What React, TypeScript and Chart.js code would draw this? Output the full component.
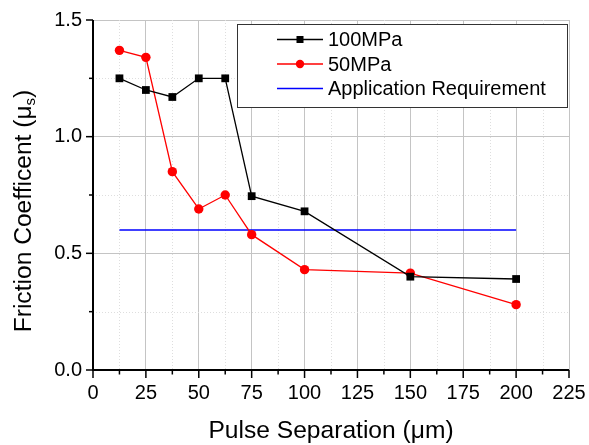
import React, { useEffect, useRef } from 'react';
import { Chart, registerables } from 'chart.js';

Chart.register(...registerables);

// ---- data ----
const pulseSeparation = [12.5, 25, 37.5, 50, 62.5, 75, 100, 150, 200];
const friction100MPa = [1.25, 1.2, 1.17, 1.25, 1.25, 0.745, 0.68, 0.4, 0.39];
const friction50MPa = [1.37, 1.34, 0.85, 0.69, 0.75, 0.58, 0.43, 0.415, 0.28];
const requirementX = [12.5, 200];
const requirementY = [0.6, 0.6];
const seriesLabels = ['100MPa', '50MPa', 'Application Requirement'];
const xTickValues = [0, 25, 50, 75, 100, 125, 150, 175, 200, 225];
const yTickValues = [0, 0.5, 1.0, 1.5];
const xMinorValues = [12.5, 37.5, 62.5, 87.5, 112.5, 137.5, 162.5, 187.5, 212.5];
const yMinorValues = [0.25, 0.75, 1.25];
const xTitle = 'Pulse Separation (\u03bcm)';
const yTitleMain = 'Friction Coefficent (\u03bc';
const yTitleSub = 's';
const yTitleEnd = ')';

const FONT = '"Liberation Sans", Arial, sans-serif';

const framePlugin = {
  id: 'framePlugin',
  beforeDatasetsDraw(chart: any) {
    const ctx = chart.ctx;
    const ca = chart.chartArea;
    const xs = chart.scales.x;
    const ys = chart.scales.y;
    ctx.save();
    ctx.strokeStyle = '#dedede';
    ctx.lineWidth = 1;
    ctx.setLineDash([1, 2]);
    for (const v of xMinorValues) {
      const px = Math.round(xs.getPixelForValue(v)) + 0.5;
      ctx.beginPath();
      ctx.moveTo(px, ca.top);
      ctx.lineTo(px, ca.bottom);
      ctx.stroke();
    }
    for (const v of yMinorValues) {
      const py = Math.round(ys.getPixelForValue(v)) + 0.5;
      ctx.beginPath();
      ctx.moveTo(ca.left, py);
      ctx.lineTo(ca.right, py);
      ctx.stroke();
    }
    ctx.restore();
  },
  afterDatasetsDraw(chart: any) {
    const ctx = chart.ctx;
    const ca = chart.chartArea;
    const xs = chart.scales.x;
    const ys = chart.scales.y;
    ctx.save();
    // axes
    ctx.strokeStyle = '#000';
    ctx.lineWidth = 2;
    ctx.beginPath();
    ctx.moveTo(ca.left, ca.top);
    ctx.lineTo(ca.left, ca.bottom);
    ctx.lineTo(ca.right, ca.bottom);
    ctx.stroke();
    // ticks
    ctx.lineWidth = 1.5;
    for (const v of xTickValues) {
      const px = xs.getPixelForValue(v);
      ctx.beginPath();
      ctx.moveTo(px, ca.bottom);
      ctx.lineTo(px, ca.bottom + 8);
      ctx.stroke();
    }
    for (const v of xMinorValues) {
      const px = xs.getPixelForValue(v);
      ctx.beginPath();
      ctx.moveTo(px, ca.bottom);
      ctx.lineTo(px, ca.bottom + 4.5);
      ctx.stroke();
    }
    for (const v of yTickValues) {
      const py = ys.getPixelForValue(v);
      ctx.beginPath();
      ctx.moveTo(ca.left, py);
      ctx.lineTo(ca.left - 7, py);
      ctx.stroke();
    }
    for (const v of yMinorValues) {
      const py = ys.getPixelForValue(v);
      ctx.beginPath();
      ctx.moveTo(ca.left, py);
      ctx.lineTo(ca.left - 4, py);
      ctx.stroke();
    }

    // legend
    const lw = 330;
    const lh = 83;
    const lx = ca.right - 2 - lw;
    const ly = ca.top + 4;
    ctx.fillStyle = '#fff';
    ctx.fillRect(lx, ly, lw, lh);
    ctx.strokeStyle = '#333';
    ctx.lineWidth = 1;
    ctx.strokeRect(Math.round(lx) + 0.5, Math.round(ly) + 0.5, lw, lh);
    const datasets = chart.data.datasets;
    ctx.font = `20px ${FONT}`;
    ctx.textBaseline = 'middle';
    ctx.textAlign = 'left';
    datasets.forEach((ds: any, i: number) => {
      const cy = ly + 15.5 + i * 24.5;
      const x0 = lx + 40;
      const x1 = lx + 86;
      ctx.strokeStyle = ds.borderColor;
      ctx.lineWidth = ds.borderWidth;
      ctx.beginPath();
      ctx.moveTo(x0, cy);
      ctx.lineTo(x1, cy);
      ctx.stroke();
      const mx = (x0 + x1) / 2;
      ctx.fillStyle = ds.borderColor;
      if (ds.pointStyle === 'rect') {
        ctx.fillRect(mx - 3.5, cy - 3.5, 7, 7);
      } else if (ds.pointRadius > 0) {
        ctx.beginPath();
        ctx.arc(mx, cy, 4.2, 0, Math.PI * 2);
        ctx.fill();
      }
      ctx.fillStyle = '#000';
      ctx.fillText(ds.label, lx + 91, cy + 1);
    });

    // x title
    ctx.fillStyle = '#000';
    ctx.font = `24.6px ${FONT}`;
    ctx.textAlign = 'center';
    ctx.textBaseline = 'alphabetic';
    ctx.fillText(xTitle, (ca.left + ca.right) / 2, 438);

    // y title with subscript
    ctx.save();
    ctx.translate(31, 211);
    ctx.rotate(-Math.PI / 2);
    ctx.textAlign = 'left';
    ctx.font = `24.6px ${FONT}`;
    const w1 = ctx.measureText(yTitleMain).width;
    const w3 = ctx.measureText(yTitleEnd).width;
    ctx.font = `15px ${FONT}`;
    const w2 = ctx.measureText(yTitleSub).width;
    const total = w1 + w2 + w3;
    let x = -total / 2;
    ctx.font = `24.6px ${FONT}`;
    ctx.fillText(yTitleMain, x, 0);
    x += w1;
    ctx.font = `15px ${FONT}`;
    ctx.fillText(yTitleSub, x, 4);
    x += w2;
    ctx.font = `24.6px ${FONT}`;
    ctx.fillText(yTitleEnd, x, 0);
    ctx.restore();

    ctx.restore();
  },
};

export default function App() {
  const canvasRef = useRef<HTMLCanvasElement | null>(null);

  useEffect(() => {
    const canvas = canvasRef.current;
    if (!canvas) return;
    const chart = new Chart(canvas, {
      type: 'line',
      data: {
        datasets: [
          {
            label: seriesLabels[0],
            data: pulseSeparation.map((x, i) => ({ x, y: friction100MPa[i] })),
            borderColor: '#000000',
            backgroundColor: '#000000',
            borderWidth: 1.3,
            pointStyle: 'rect',
            pointRadius: 5.5,
            pointBorderWidth: 0,
            tension: 0,
          },
          {
            label: seriesLabels[1],
            data: pulseSeparation.map((x, i) => ({ x, y: friction50MPa[i] })),
            borderColor: '#ff0000',
            backgroundColor: '#ff0000',
            borderWidth: 1.3,
            pointStyle: 'circle',
            pointRadius: 4.7,
            pointBorderWidth: 0,
            tension: 0,
          },
          {
            label: seriesLabels[2],
            data: requirementX.map((x, i) => ({ x, y: requirementY[i] })),
            borderColor: '#0000ff',
            backgroundColor: '#0000ff',
            borderWidth: 1.5,
            pointRadius: 0,
            tension: 0,
          },
        ],
      },
      options: {
        responsive: true,
        maintainAspectRatio: false,
        animation: false,
        layout: { padding: { top: 20, right: 20, bottom: 0, left: 0 } },
        plugins: {
          legend: { display: false },
          tooltip: { enabled: false },
        },
        scales: {
          x: {
            type: 'linear',
            min: 0,
            max: 225,
            afterBuildTicks: (s: any) => {
              s.ticks = xTickValues.map((v) => ({ value: v }));
            },
            afterFit: (s: any) => {
              s.height = 75;
              s.paddingLeft = 0;
              s.paddingRight = 0;
            },
            grid: { display: true, drawTicks: false, color: '#c4c4c4', lineWidth: 1 },
            border: { display: false },
            ticks: {
              color: '#000',
              font: { family: FONT, size: 20 },
              padding: 11,
              maxRotation: 0,
              autoSkip: false,
            },
          },
          y: {
            type: 'linear',
            min: 0,
            max: 1.5,
            afterBuildTicks: (s: any) => {
              s.ticks = yTickValues.map((v) => ({ value: v }));
            },
            afterFit: (s: any) => {
              s.width = 93;
              s.paddingTop = 0;
              s.paddingBottom = 0;
            },
            grid: { display: true, drawTicks: false, color: '#c4c4c4', lineWidth: 1 },
            border: { display: false },
            ticks: {
              color: '#000',
              font: { family: FONT, size: 20 },
              padding: 11,
              callback: (v: any) => Number(v).toFixed(1),
            },
          },
        },
      },
      plugins: [framePlugin],
    });
    return () => chart.destroy();
  }, []);

  return (
    <div style={{ position: 'fixed', left: 0, top: 0, width: 589, height: 445, background: '#fff' }}>
      <canvas ref={canvasRef} />
    </div>
  );
}
